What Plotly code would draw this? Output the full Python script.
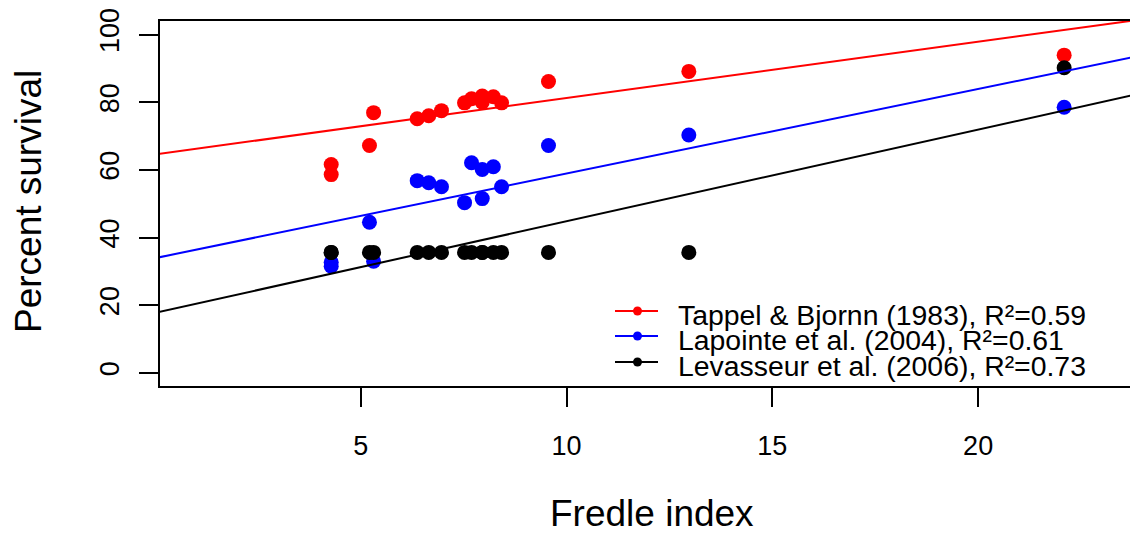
import plotly.graph_objects as go

# ---- data ----
fredle = [4.28, 4.28, 5.21, 5.31, 6.37, 6.65, 6.96, 7.52, 7.69, 7.95, 7.95, 8.22, 8.42, 9.56, 12.97, 22.09]
tappel = [61.6, 58.6, 67.2, 76.9, 75.1, 76.0, 77.5, 79.8, 81.0, 81.8, 80.0, 81.6, 79.8, 86.1, 89.1, 93.9]
lapointe = [32.7, 31.5, 44.5, 33.0, 56.8, 56.2, 55.0, 50.3, 62.1, 60.1, 51.5, 60.9, 55.0, 67.2, 70.3, 78.5]
levasseur = [35.6, 35.6, 35.6, 35.6, 35.6, 35.6, 35.6, 35.6, 35.6, 35.6, 35.6, 35.6, 35.6, 35.6, 35.6, 90.2]

series_names = ["Tappel & Bjornn (1983), R²=0.59",
                "Lapointe et al. (2004), R²=0.61",
                "Levasseur et al. (2006), R²=0.73"]
series_colors = ["#ff0000", "#0000ff", "#000000"]
# linear fits (intercept, slope)
fit_intercepts = [64.56, 33.9, 17.7]
fit_slopes = [1.665, 2.50, 2.71]

x_ticks = [5, 10, 15, 20]
y_ticks = [0, 20, 40, 60, 80, 100]
x_range = [0.12, 23.69]
y_range = [-3.9, 104.0]

FONT = "Liberation Sans, Arial, Helvetica, sans-serif"
W, H = 1130, 536
ML, MR, MT, MB = 160, 0, 21, 150
PW, PH = W - ML - MR, H - MT - MB


def px(xp):
    return (xp - ML) / PW


def py(yp):
    return (H - MB - yp) / PH


fig = go.Figure()

values = [tappel, lapointe, levasseur]
for name, col, vals in zip(series_names, series_colors, values):
    fig.add_trace(go.Scatter(x=fredle, y=vals, mode="markers", name=name,
                             marker=dict(color=col, size=15, line=dict(width=0)),
                             showlegend=False, cliponaxis=False))

for name, col, a, b in zip(series_names, series_colors, fit_intercepts, fit_slopes):
    xs = [x_range[0] - 1, x_range[1] + 1]
    fig.add_trace(go.Scatter(x=xs, y=[a + b * v for v in xs], mode="lines",
                             line=dict(color=col, width=2), showlegend=False,
                             hoverinfo="skip"))

# legend drawn manually (R style, tight spacing)
leg_rows = [311, 336, 362]
text_rows = [315, 340, 366]
shapes = []
annotations = []
for i, (name, col) in enumerate(zip(series_names, series_colors)):
    yr = leg_rows[i]
    shapes.append(dict(type="line", xref="paper", yref="paper",
                       x0=px(615), x1=px(658), y0=py(yr), y1=py(yr),
                       line=dict(color=col, width=2)))
    shapes.append(dict(type="circle", xref="paper", yref="paper",
                       x0=px(633), x1=px(642), y0=py(yr - 4.5), y1=py(yr + 4.5),
                       fillcolor=col, line=dict(width=0)))
    annotations.append(dict(text=name, xref="paper", yref="paper",
                            x=px(676), y=py(text_rows[i]), xanchor="left", yanchor="middle",
                            showarrow=False, font=dict(family=FONT, size=28.4, color="black")))

# axis titles
annotations.append(dict(text="Fredle index", xref="paper", yref="paper",
                        x=px(652), y=py(513), xanchor="center", yanchor="middle",
                        showarrow=False, font=dict(family=FONT, size=37, color="black")))
annotations.append(dict(text="Percent survival", xref="paper", yref="paper",
                        x=px(28), y=py(202), xanchor="center", yanchor="middle",
                        textangle=-90, showarrow=False,
                        font=dict(family=FONT, size=37, color="black")))

axis_common = dict(showgrid=False, zeroline=False, showline=True, linecolor="black",
                   linewidth=2, ticks="outside", ticklen=19, tickwidth=2,
                   tickcolor="black", tickfont=dict(family=FONT, size=27, color="black"))

fig.update_layout(
    width=W, height=H,
    margin=dict(l=ML, r=MR, t=MT, b=MB, autoexpand=False),
    paper_bgcolor="white", plot_bgcolor="white",
    showlegend=False,
    xaxis=dict(range=x_range, tickvals=x_ticks, mirror=True, ticklabelstandoff=16,
               **axis_common),
    yaxis=dict(range=y_range, tickvals=y_ticks, tickangle=-90, ticklabelstandoff=9,
               **axis_common),
    shapes=shapes,
    annotations=annotations,
)

fig.write_html("out.html")
